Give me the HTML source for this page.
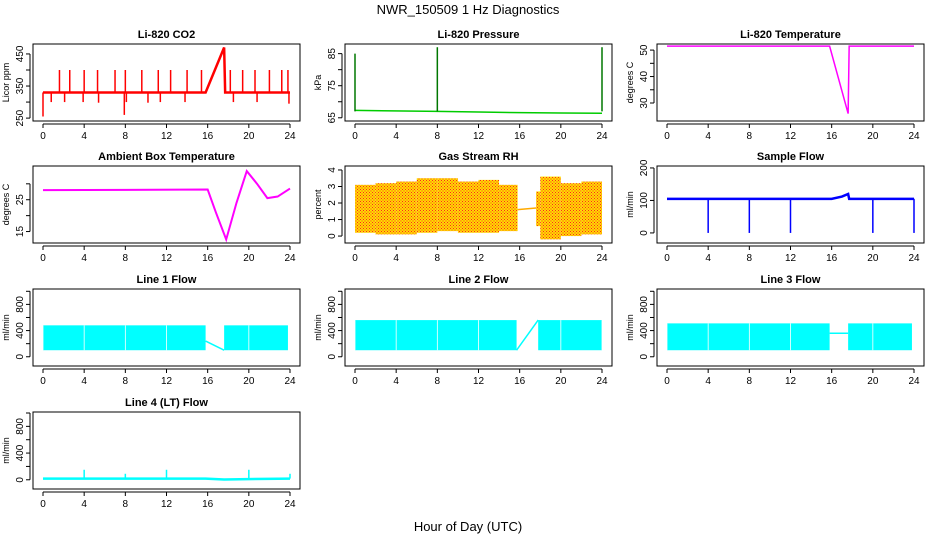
<!DOCTYPE html>
<html><head><meta charset="utf-8"><style>
body{margin:0;background:#fff}
svg{display:block;font-family:"Liberation Sans",sans-serif}
</style></head><body>
<svg id="c" width="936" height="540" xmlns="http://www.w3.org/2000/svg">
<defs><pattern id="rhp" width="3" height="3" patternUnits="userSpaceOnUse"><rect width="3" height="3" fill="#fd0"/><rect x="0" y="0" width="1" height="1" fill="#f22"/><rect x="1.5" y="1.5" width="1" height="1" fill="#f22"/></pattern></defs>
<text x="468" y="14" text-anchor="middle" font-size="13">NWR_150509  1 Hz Diagnostics</text>
<text x="468" y="531" text-anchor="middle" font-size="13">Hour of Day (UTC)</text>
</svg>
<script>
// ---- data ----
const hourTicks=[0,4,8,12,16,20,24];
const co2Hours=[0,15.8,17.6,17.7,24];
const co2Values=[330,330,470,330,330];
const co2SpikeHours=[1.6,2.6,4,5.3,7,8,9.6,11.2,12.4,14,15.4,18.2,19.4,20.6,22,23.2,23.8];
const co2SpikeValues=[400,400,400,400,400,400,400,400,400,400,400,400,400,400,400,400,400];
const co2DipHours=[0,0.8,2.1,3.9,5.4,7.9,8.1,10.2,11.4,13.8,18.5,20.8,23.9];
const co2DipValues=[255,300,300,300,298,260,300,298,300,300,300,300,295];
const presHours=[0,8,12,16,20,24];
const presValues=[67.3,67,66.8,66.6,66.5,66.4];
const presSpikeHours=[0,8,24];
const presSpikeValues=[85,87,87];
const tempHours=[0,15.8,17.6,17.7,24];
const tempValues=[51.5,51.5,26,51.5,51.5];
const ambHours=[0,16,16.8,17.8,18.8,19.8,20.8,21.8,22.8,24];
const ambValues=[28,28.2,21,12.5,24,34,30,25.5,26,28.5];
const rhHours=[0,2,4,6,8,10,12,14,15.8,17.6,18,20,22,24];
const rhLow=[0.2,0.1,0.1,0.2,0.3,0.2,0.2,0.3,0.5,0.6,-0.2,0,0.1,0.5];
const rhHigh=[3.1,3.2,3.3,3.5,3.5,3.3,3.4,3.1,3.1,2.7,3.6,3.2,3.3,2.8];
const rhGapHours=[15.8,17.6];
const rhGapValues=[1.6,1.7];
const flowHours=[0,4,8,12,16,17,17.6,17.7,24];
const flowValues=[105,105,105,105,105,112,120,105,105];
const flowDipHours=[4,8,12,20,24];
const flowDipValues=[0,0,0,0,0];
const l1Low=[100,100];const l1High=[480,480];
const l1Hours=[[0,15.8],[17.6,23.8]];
const l2Low=[100,100];const l2High=[560,560];
const l2Hours=[[0,15.7],[17.8,24]];
const l3Low=[100,100];const l3High=[510,510];
const l3Hours=[[0,15.8],[17.6,23.8]];
const l4Hours=[0,15.8,17.6,24];
const l4Values=[18,18,5,18];
const l4SpikeHours=[4,8,12,20,24];
const l4SpikeValues=[150,90,150,150,90];

const svg=document.getElementById('c');const NS='http://www.w3.org/2000/svg';
function el(t,a,p){const e=document.createElementNS(NS,t);for(const k in a)e.setAttribute(k,a[k]);(p||svg).appendChild(e);return e;}
const cols=[33,345,657],rows=[44,166,289,412],W=267,H=77;
function panel(col,row,title,ylab,ymin,ymax,ticks,labs,name){
 const g=el('g',{});
 
 
 const x0=cols[col],y0=rows[row];
 const sx=h=>x0+10+h*(W-20)/24, sy=v=>y0+H-(v-ymin)/(ymax-ymin)*H;
 const t=el('text',{x:x0+W/2,y:y0-6,'text-anchor':'middle','font-size':'11','font-weight':'bold'},g);t.textContent=title;
 
 const b=el('rect',{x:x0,y:y0,width:W,height:H,fill:'none',stroke:'#000'},g);
 
 el('line',{x1:sx(0),x2:sx(24),y1:y0+H+3,y2:y0+H+3,stroke:'#000'},g);
 hourTicks.forEach(h=>{el('line',{x1:sx(h),x2:sx(h),y1:y0+H+3,y2:y0+H+7,stroke:'#000'},g);
  const l=el('text',{x:sx(h),y:y0+H+18,'text-anchor':'middle','font-size':'10'},g);l.textContent=h;
  });
 el('line',{x1:x0-3,x2:x0-3,y1:sy(ticks[0]),y2:sy(ticks[ticks.length-1]),stroke:'#000'},g);
 ticks.forEach((v,i)=>{el('line',{x1:x0-3,x2:x0-7,y1:sy(v),y2:sy(v),stroke:'#000'},g);
  if(labs[i]){const l=el('text',{x:0,y:0,'text-anchor':'middle','font-size':'10',transform:`translate(${x0-10},${sy(v)}) rotate(-90)`},g);l.textContent=labs[i];
  }});
 const yl=el('text',{x:0,y:0,'text-anchor':'middle','font-size':'9',transform:`translate(${x0-24},${y0+H/2}) rotate(-90)`},g);yl.textContent=ylab;
 
 return {g,sx,sy};
}
function line(p,hs,vs,c,w,name){const e=el('polyline',{points:hs.map((h,i)=>p.sx(h)+','+p.sy(vs[i])).join(' '),fill:'none',stroke:c,'stroke-width':w||1.5},p.g);
 }
function spikes(p,hs,vs,base,c,name){hs.forEach((h,i)=>{const e=el('line',{x1:p.sx(h),x2:p.sx(h),y1:p.sy(base),y2:p.sy(vs[i]),stroke:c,'stroke-width':1.5},p.g);
 });}
function band(p,h0,h1,lo,hi,c,name){const e=el('rect',{x:p.sx(h0),y:p.sy(hi),width:p.sx(h1)-p.sx(h0),height:p.sy(lo)-p.sy(hi),fill:c},p.g);
 }

let p=panel(0,0,'Li-820 CO2','Licor ppm',241,481,[250,300,350,400,450],['250','','350','','450'],'panel-co2');
line(p,co2Hours,co2Values,'#f00',2.5,'co2-line');spikes(p,co2SpikeHours,co2SpikeValues,330,'#f00','co2-spike');spikes(p,co2DipHours,co2DipValues,330,'#f00','co2-dip');
p=panel(1,0,'Li-820 Pressure','kPa',64,88,[65,70,75,80,85],['65','','75','','85'],'panel-pressure');
line(p,presHours,presValues,'#0c0',1.5,'pressure-line');spikes(p,presSpikeHours,presSpikeValues,67,'#070','pressure-spike');
p=panel(2,0,'Li-820 Temperature','degrees C',23.2,52.3,[30,35,40,45,50],['30','','40','','50'],'panel-li820-temp');
line(p,tempHours,tempValues,'#f0f',1.5,'temp-line');
p=panel(0,1,'Ambient Box Temperature','degrees C',11.4,35.6,[15,20,25,30],['15','','25',''],'panel-ambient-temp');
line(p,ambHours,ambValues,'#f0f',2,'ambient-line');
p=panel(1,1,'Gas Stream RH','percent',-0.42,4.24,[0,1,2,3,4],['0','1','2','3','4'],'panel-rh');
for(let i=0;i<rhHours.length-1;i++){if(rhHours[i]===15.8)continue;band(p,rhHours[i],rhHours[i+1],rhLow[i],rhHigh[i],'url(#rhp)','rh-band');}
line(p,rhGapHours,rhGapValues,'#fa0',1.5,'rh-gap-line');
p=panel(2,1,'Sample Flow','ml/min',-31,206,[0,100,200],['0','100','200'],'panel-sample-flow');
line(p,flowHours,flowValues,'#00f',2.5,'sample-flow-line');spikes(p,flowDipHours,flowDipValues,105,'#00f','sample-flow-dip');
const fT=[0,200,400,600,800,1000],fL=['0','','400','','800',''];
[[0,'Line 1 Flow',l1Hours,l1Low,l1High,'panel-line1-flow'],[1,'Line 2 Flow',l2Hours,l2Low,l2High,'panel-line2-flow'],[2,'Line 3 Flow',l3Hours,l3Low,l3High,'panel-line3-flow']].forEach(([c,t,hs,lo,hi,n])=>{
 const q=panel(c,2,t,'ml/min',-141,1035,fT,fL,n);
 hs.forEach((r,i)=>band(q,r[0],r[1],lo[i],hi[i],'#0ff','flow-band'));
 for(let h=0;h<=24;h+=4){const e=el('line',{x1:q.sx(h),x2:q.sx(h),y1:q.sy(lo[0]),y2:q.sy(hi[0]),stroke:'#fff','stroke-width':0.8},q.g);}
 line(q,[hs[0][1],hs[1][0]],c===0?[hi[0]/2,lo[0]]:c===1?[lo[0],hi[1]]:[360,360],'#0ff',1.5,'flow-transition');
});
p=panel(0,3,'Line 4 (LT) Flow','ml/min',-138,1015,fT,fL,'panel-line4-flow');
line(p,l4Hours,l4Values,'#0ff',2.5,'line4-line');spikes(p,l4SpikeHours,l4SpikeValues,18,'#0ff','line4-spike');
</script>
</body></html>
